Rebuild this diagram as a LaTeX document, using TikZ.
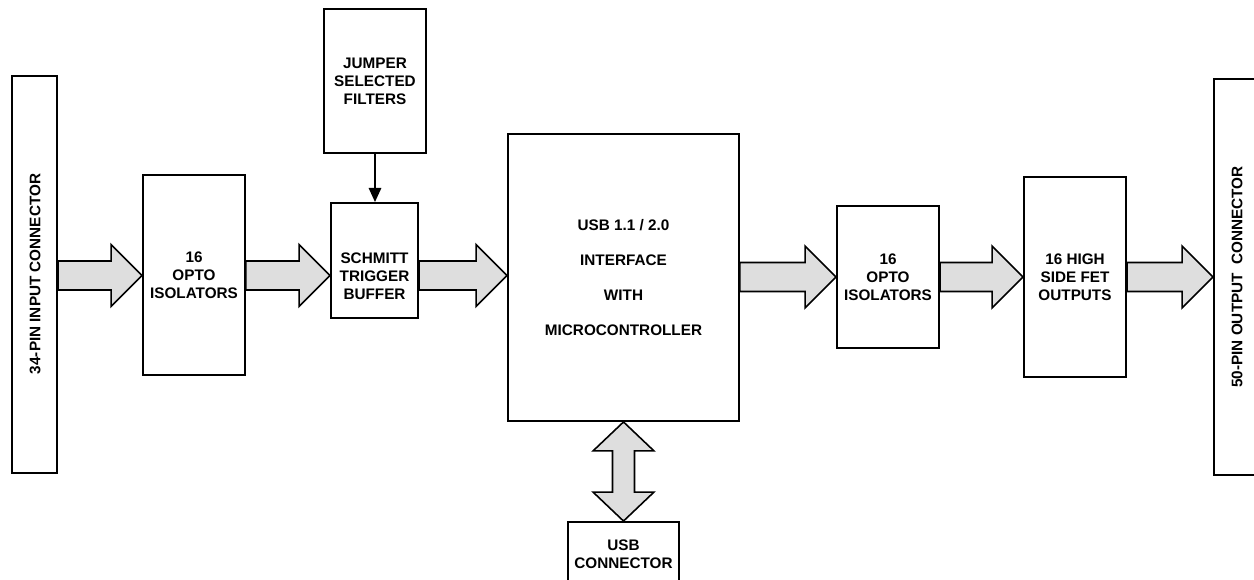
\documentclass[tikz,border=0pt]{standalone}
\usepackage{fontspec}
\setmainfont{Liberation Sans}
\usetikzlibrary{calc,arrows.meta}
\definecolor{arrowgray}{HTML}{DEDEDE}
\newcommand\txtfont{\bfseries\fontsize{8.7}{10.2}\selectfont}
\tikzset{
  box/.style={draw, line width=1.1pt, rectangle, inner sep=0pt, align=center, font=\txtfont},
  lbl/.style={inner sep=0pt, align=center, font=\txtfont},
  barrow/.style={draw, line width=0.9pt, fill=arrowgray, line join=miter},
  thinarrow/.style={line width=1.1pt, -{Triangle[length=8pt,width=7pt]}},
}
\newcommand\harrow[3]{% from, to, y-center coordinate
  \draw[barrow] ($(#1.east|-#3)+(0,14.5)$) -- ($(#2.west|-#3)+(-31,14.5)$)
    -- ($(#2.west|-#3)+(-31,31)$) -- (#2.west|-#3) -- ($(#2.west|-#3)+(-31,-31)$)
    -- ($(#2.west|-#3)+(-31,-14.5)$) -- ($(#1.east|-#3)+(0,-14.5)$) -- cycle;}
\begin{document}
\begin{tikzpicture}[x=0.02cm,y=-0.02cm]
\useasboundingbox (0,0) rectangle (1254,579);
\fill[white] (0,0) rectangle (1254,579);
\clip (0,0) rectangle (1254,579);

\node[box, minimum width=0.9cm, minimum height=7.94cm] (inp) at (34.5,274.5) {};
\node[lbl, rotate=90] (inptxt) at (35,274) {34-PIN INPUT CONNECTOR};
\node[box, minimum width=2.04cm, minimum height=4cm] (opto1) at (194,275) {16\\OPTO\\ISOLATORS};
\node[box, minimum width=2.04cm, minimum height=2.88cm] (jump) at (375,81) {JUMPER\\SELECTED\\FILTERS};
\node[box, minimum width=1.74cm, minimum height=2.3cm] (schm) at (374.5,260.5) {};
\node[lbl] (schmtxt) at (374.5,276) {SCHMITT\\TRIGGER\\BUFFER};
\node[box, minimum width=4.62cm, minimum height=5.74cm, font=\bfseries\fontsize{8.7}{19.8}\selectfont] (micro) at (623.5,277.5)
  {USB 1.1 / 2.0\\INTERFACE\\WITH\\MICROCONTROLLER};
\node[box, minimum width=2.22cm, minimum height=1.28cm] (usb) at (623.5,554) {USB\\CONNECTOR};
\node[box, minimum width=2.04cm, minimum height=2.84cm] (opto2) at (888,277) {16\\OPTO\\ISOLATORS};
\node[box, minimum width=2.04cm, minimum height=4cm] (fet) at (1075,277) {16 HIGH\\SIDE FET\\OUTPUTS};
\node[box, minimum width=1.52cm, minimum height=7.92cm] (outp) at (1252,277) {};
\node[lbl, rotate=90] (outtxt) at (1237,277) {50-PIN OUTPUT\ \ CONNECTOR};

\coordinate (ya) at (0,275.5);
\coordinate (yb) at (0,277);
\harrow{inp}{opto1}{ya}
\harrow{opto1}{schm}{ya}
\harrow{schm}{micro}{ya}
\harrow{micro}{opto2}{yb}
\harrow{opto2}{fet}{yb}
\harrow{fet}{outp}{yb}

\draw[thinarrow] (jump.south) -- (jump.south|-schm.north);

\coordinate (T) at (micro.south);
\coordinate (B) at (usb.north);
\draw[barrow] (T) -- ($(T)+(30.5,29)$) -- ($(T)+(11,29)$) -- ($(B)+(11,-29)$)
  -- ($(B)+(30.5,-29)$) -- (B) -- ($(B)+(-30.5,-29)$) -- ($(B)+(-11,-29)$)
  -- ($(T)+(-11,29)$) -- ($(T)+(-30.5,29)$) -- cycle;
\end{tikzpicture}
\end{document}
